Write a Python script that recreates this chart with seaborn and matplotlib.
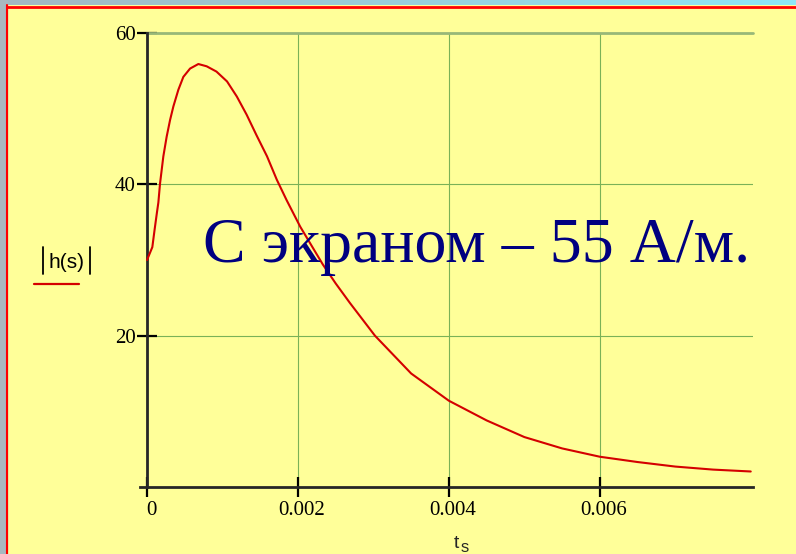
import numpy as np
import pandas as pd
import seaborn as sns
import matplotlib.pyplot as plt
from matplotlib.lines import Line2D
from matplotlib.patches import Rectangle
from matplotlib.colors import LinearSegmentedColormap
from matplotlib.transforms import ScaledTranslation

# values
t_s = [0, 0.00007, 0.0001, 0.00013, 0.00015, 0.000172, 0.000216, 0.00026,
       0.000305, 0.000349, 0.000415, 0.000481, 0.00057, 0.00068, 0.00079,
       0.00092, 0.00106, 0.00119, 0.00132, 0.00145, 0.00159, 0.00172,
       0.00185, 0.00203, 0.00233, 0.0025, 0.00269, 0.00302, 0.0035,
       0.004, 0.0045, 0.005, 0.0055, 0.006, 0.0065, 0.007, 0.0075, 0.008]
h_abs = [30, 31.7, 34, 36.2, 37.6, 40.1, 43.7, 46.3,
         48.5, 50.3, 52.5, 54.2, 55.3, 55.9, 55.6,
         54.9, 53.6, 51.6, 49.2, 46.5, 43.7, 40.6,
         37.9, 34.4, 29.4, 26.9, 24.3, 20, 15,
         11.4, 8.8, 6.6, 5.1, 4.0, 3.3, 2.7, 2.3, 2.05]

x_ticks = [0, 0.002, 0.004, 0.006]
x_tick_labels = ['0', '0.002', '0.004', '0.006']
y_ticks = [20, 40, 60]
y_tick_labels = ['20', '40', '60']
caption = 'С экраном – 55 А/м.'

W, H = 796, 554
BG = '#FFFF99'
GRID = '#7AB257'
CURVE = '#D40000'


def fx(px):
    return px / W


def fy(py):
    return 1 - py / H


sns.set_style('ticks')
plt.rcParams['font.family'] = ['Liberation Serif', 'DejaVu Serif']

fig = plt.figure(figsize=(W / 100, H / 100), dpi=100, facecolor=BG)

# window frame: grey strip left, gradient strip top, red border
fig.patches.append(Rectangle((0, 0), fx(7), 1, transform=fig.transFigure,
                             color='#A8B8C0', zorder=0))
strip = fig.add_axes([0, fy(5.5), 1, 5.5 / H])
strip.imshow(np.linspace(0, 1, 256)[None, :], aspect='auto',
             cmap=LinearSegmentedColormap.from_list('s', ['#A3B7C1', '#8EE6F6']))
strip.axis('off')
fig.add_artist(Line2D([fx(7.5), fx(7.5)], [0, fy(5)], color='#FF0000', lw=1.5))
fig.add_artist(Line2D([fx(7), 1], [fy(6.5), fy(6.5)], color='#FF0000', lw=2))

# plot area
ax = fig.add_axes([fx(139.5), fy(487), fx(753) - fx(139.5), fy(33) - fy(487)])
ax.set_facecolor(BG)

df = pd.DataFrame({'t': t_s, 'h': h_abs})
sns.lineplot(data=df, x='t', y='h', ax=ax, color=CURVE, lw=1.5, zorder=5)

ax.set_xlim(-0.0001, 0.00803)
ax.set_ylim(0, 60)
ax.set_xticks(x_ticks)
ax.set_xticklabels(x_tick_labels)
ax.set_yticks(y_ticks)
ax.set_yticklabels(y_tick_labels)
ax.set_xlabel('')
ax.set_ylabel('')

ax.grid(True, color=GRID, lw=0.8)
ax.axhline(60, color='#98B878', lw=2, clip_on=False, xmin=0.0125, zorder=1)

ax.spines['left'].set_position(('data', 0))
ax.spines['left'].set_linewidth(2)
ax.spines['bottom'].set_linewidth(2)
for s in ['top', 'right']:
    ax.spines[s].set_visible(False)

ax.tick_params(direction='inout', length=14, width=1.6, color='black',
               labelsize=15, labelcolor='black')
ax.tick_params(axis='x', pad=3)
ax.tick_params(axis='y', pad=1)
for lab in ax.get_xticklabels():
    lab.set_transform(lab.get_transform() + ScaledTranslation(4 / 100, 0, fig.dpi_scale_trans))

# y label |h(s)| with red legend line
fig.text(fx(66), fy(263), 'h(s)', family='Liberation Sans', fontsize=15,
         ha='center', va='center', color='black')
for bx in (43, 90):
    fig.add_artist(Line2D([fx(bx), fx(bx)], [fy(247), fy(274)], color='black', lw=1.3))
fig.add_artist(Line2D([fx(34), fx(79)], [fy(284), fy(284)], color=CURVE, lw=1.6))

# x label t_s
fig.text(fx(454), fy(548), 't', family='Liberation Sans', fontsize=14,
         ha='left', va='baseline')
fig.text(fx(461), fy(552), 's', family='Liberation Sans', fontsize=12,
         ha='left', va='baseline')

# big caption
fig.text(fx(203), fy(262), caption, color='#000080', fontsize=46,
         ha='left', va='baseline', zorder=10)

fig.savefig('out.png', dpi=100, facecolor=fig.get_facecolor())
